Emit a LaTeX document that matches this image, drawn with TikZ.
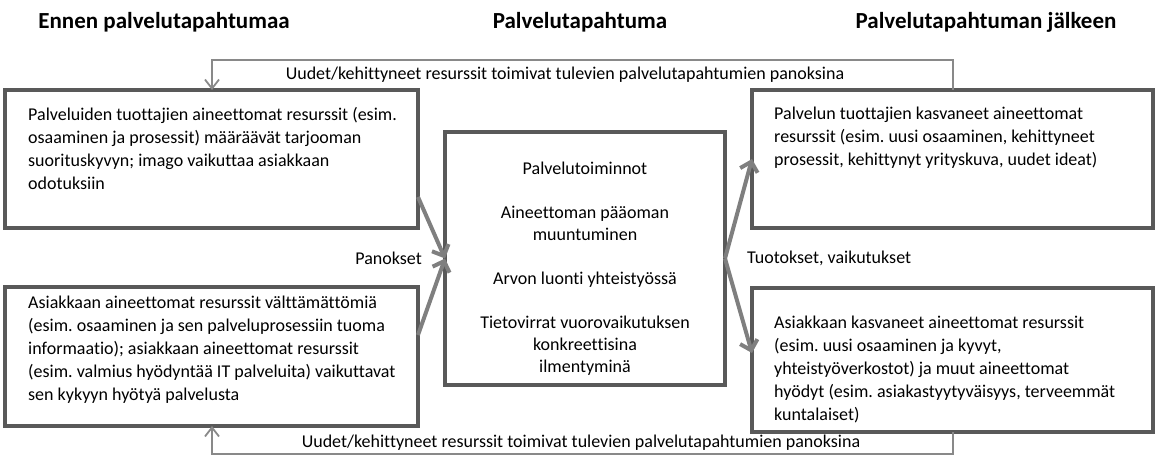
\documentclass[tikz,border=0pt]{standalone}
\usepackage{fontspec}
\setmainfont{Carlito}[Ligatures=NoCommon]
\usepackage{xcolor}
\usetikzlibrary{positioning,arrows.meta}
\definecolor{framegray}{HTML}{595959}
\definecolor{flowgray}{HTML}{7F7F7F}
\definecolor{loopgray}{HTML}{898989}
\frenchspacing

\begin{document}
\begin{tikzpicture}[x=1pt,y=-1pt,node distance=23pt,
	phaseb/.style={
	  font=\fontsize{23}{28}\selectfont\bfseries,
	  anchor=base
	},
	resb/.style={
	  draw=framegray,
	  line width=4pt,
	  anchor=north west,
	  inner sep=0pt,
	  outer sep=0pt
	},
	restext/.style={
	  font=\fontsize{18}{23}\selectfont,
	  align=left,
	  anchor=north west,
	  inner sep=0pt
	},
	procb/.style={
	  resb,
	  font=\fontsize{18}{22}\selectfont,
	  align=center
	},
	notetext/.style={
	  font=\fontsize{18}{23}\selectfont,
	  inner sep=0pt
	},
	flow/.style={
	  draw=flowgray,
	  line width=4pt,
	  -{Straight Barb[length=9pt,width=18pt]}
	},
	loopline/.style={
	  draw=loopgray,
	  line width=1.8pt,
	  -{Straight Barb[length=9pt,width=14pt]}
	}]

	\useasboundingbox (0,0) rectangle (1161,458);

	\node[phaseb] (Before) at (164,28) {Ennen palvelutapahtumaa};
	\node[phaseb] (During) at (580,28) {Palvelutapahtuma};
	\node[phaseb] (After) at (986,28) {Palvelutapahtuman jälkeen};

	\node[resb,minimum width=413pt,minimum height=138pt] (ProvIn) at (5,90) {};
	\node[restext] (ProvInText) at ([xshift=23pt,yshift=-17pt]ProvIn.north west) {Palveluiden tuottajien aineettomat resurssit (esim.\\osaaminen ja prosessit) määräävät tarjooman\\suorituskyvyn; imago vaikuttaa asiakkaan\\odotuksiin};

	\node[resb,minimum width=413pt,minimum height=139pt] (CustIn) at (5,287) {};
	\node[restext] (CustInText) at ([xshift=23pt,yshift=-9pt]CustIn.north west) {Asiakkaan aineettomat resurssit välttämättömiä\\(esim. osaaminen ja sen palveluprosessiin tuoma\\informaatio); asiakkaan aineettomat resurssit\\(esim. valmius hyödyntää IT palveluita) vaikuttavat\\sen kykyyn hyötyä palvelusta};

	\node[procb,minimum width=280pt,minimum height=253pt] (Proc) at (445,132) {\vphantom{P}\\Palvelutoiminnot\\[22pt]Aineettoman pääoman\\muuntuminen\\[22pt]Arvon luonti yhteistyössä\\[22pt]Tietovirrat vuorovaikutuksen\\konkreettisina\\ilmentyminä};

	\node[resb,minimum width=401pt,minimum height=138pt] (ProvOut) at (752,90) {};
	\node[restext] (ProvOutText) at ([xshift=22pt,yshift=-17pt]ProvOut.north west) {Palvelun tuottajien kasvaneet aineettomat\\resurssit (esim. uusi osaaminen, kehittyneet\\prosessit, kehittynyt yrityskuva, uudet ideat)};

	\node[resb,minimum width=401pt,minimum height=144pt] (CustOut) at (752,288) {};
	\node[restext] (CustOutText) at ([xshift=22pt,yshift=-28pt]CustOut.north west) {Asiakkaan kasvaneet aineettomat resurssit\\(esim. uusi osaaminen ja kyvyt,\\yhteistyöverkostot) ja muut aineettomat\\hyödyt (esim. asiakastyytyväisyys, terveemmät\\kuntalaiset)};

	\node[notetext,left=23pt of Proc] (InLabel) {Panokset};
	\node[notetext,right=22pt of Proc] (OutLabel) {Tuotokset, vaikutukset};

	\draw[flow] ([yshift=31pt]ProvIn.south east) -- (Proc.west);
	\draw[flow] ([yshift=-48pt]CustIn.north east) -- (Proc.west);
	\draw[flow] (Proc.east) -- (ProvOut.west);
	\draw[flow] (Proc.east) -- ([yshift=7pt]CustOut.west);

	\draw[loopline] ([xshift=201pt]ProvOut.north west) -- ++(0,-30) -| ([xshift=207pt]ProvIn.north west);
	\draw[loopline] ([xshift=201pt]CustOut.south west) -- ++(0,22) -| ([xshift=207pt]CustIn.south west);

	\node[notetext] (TopNote) at (565,75) {Uudet/kehittyneet resurssit toimivat tulevien palvelutapahtumien panoksina};
	\node[notetext] (BottomNote) at (581,443) {Uudet/kehittyneet resurssit toimivat tulevien palvelutapahtumien panoksina};
\end{tikzpicture}
\end{document}
